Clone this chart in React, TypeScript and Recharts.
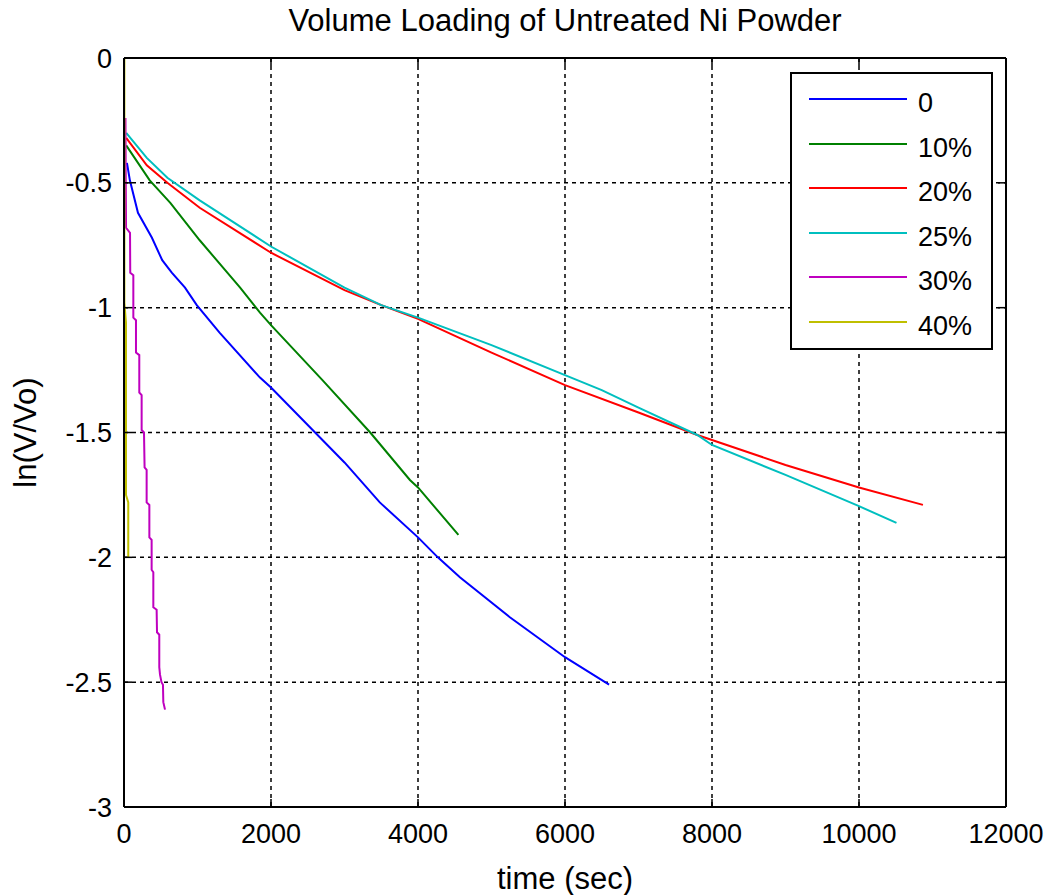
import { LineChart, Line, XAxis, YAxis, CartesianGrid } from "recharts";

const FONT = '"Liberation Sans", Arial, sans-serif';

const X_TICKS = [0, 2000, 4000, 6000, 8000, 10000, 12000];
const Y_TICKS = [-3, -2.5, -2, -1.5, -1, -0.5, 0];

// time (sec) / ln(V/Vo) per loading
const T_0 = [40, 80, 190, 380, 520, 650, 830, 990, 1300, 1850, 2000, 2600, 3000, 3480, 4000, 4270, 4570, 5250, 6000, 6600];
const LN_0 = [-0.42, -0.49, -0.62, -0.72, -0.81, -0.86, -0.92, -0.99, -1.1, -1.28, -1.32, -1.5, -1.62, -1.78, -1.92, -2.0, -2.08, -2.24, -2.4, -2.51];

const T_10 = [30, 350, 630, 1030, 1580, 1850, 2000, 2700, 3350, 3890, 4000, 4550];
const LN_10 = [-0.35, -0.49, -0.58, -0.73, -0.92, -1.02, -1.07, -1.29, -1.5, -1.69, -1.72, -1.91];

const T_20 = [30, 310, 590, 1030, 2000, 3000, 3500, 4000, 5000, 6000, 7000, 7800, 8000, 9000, 10000, 10870];
const LN_20 = [-0.32, -0.43, -0.5, -0.6, -0.78, -0.93, -0.99, -1.045, -1.18, -1.31, -1.42, -1.51, -1.53, -1.63, -1.72, -1.79];

const T_25 = [30, 310, 590, 1030, 2000, 3000, 3500, 4000, 5000, 6000, 6500, 7000, 7800, 8000, 9000, 10000, 10510];
const LN_25 = [-0.3, -0.4, -0.48, -0.57, -0.755, -0.92, -0.99, -1.04, -1.15, -1.27, -1.33, -1.4, -1.51, -1.55, -1.67, -1.795, -1.862];

const T_30 = [20, 23, 28, 82, 85, 127, 127, 163, 163, 208, 208, 240, 240, 272, 280, 308, 308, 345, 345, 376, 376, 399, 399, 444, 449, 480, 480, 490, 510, 530, 535, 558];
const LN_30 = [-0.24, -0.45, -0.68, -0.7, -0.86, -0.87, -1.04, -1.05, -1.18, -1.19, -1.34, -1.35, -1.49, -1.5, -1.64, -1.65, -1.78, -1.79, -1.92, -1.93, -2.05, -2.06, -2.2, -2.21, -2.3, -2.31, -2.44, -2.47, -2.5, -2.51, -2.58, -2.61];

const T_40 = [5, 5, 27, 27, 58, 58];
const LN_40 = [0, -0.98, -1.06, -1.75, -1.78, -2.0];

// the last series is plotted against the top/right axes (same domains) so the box edges get drawn
const SERIES = [
  { name: "0", color: "#0000ff", t: T_0, ln: LN_0, xId: 0, yId: 0 },
  { name: "10%", color: "#008000", t: T_10, ln: LN_10, xId: 0, yId: 0 },
  { name: "20%", color: "#ff0000", t: T_20, ln: LN_20, xId: 0, yId: 0 },
  { name: "25%", color: "#00bfbf", t: T_25, ln: LN_25, xId: 0, yId: 0 },
  { name: "30%", color: "#bf00bf", t: T_30, ln: LN_30, xId: 0, yId: 0 },
  { name: "40%", color: "#bfbf00", t: T_40, ln: LN_40, xId: "top", yId: "right" },
];

const tickStyle = { fill: "#000", fontSize: 27, fontFamily: FONT };
const axisLine = { stroke: "#000", strokeWidth: 2 };
const tickLine = { stroke: "#000", strokeWidth: 1.5 };

export default function App() {
  const lines = SERIES.map((s) => ({
    ...s,
    data: s.t.map((t, i) => ({ t, v: s.ln[i] })),
  }));

  return (
    <div style={{ position: "absolute", left: 0, top: 0, width: 1054, height: 895, background: "#fff", fontFamily: FONT }}>
      <LineChart width={1054} height={895} margin={{ top: 57, right: 47, left: 0, bottom: 0 }}>
        <CartesianGrid stroke="#000" strokeWidth={1.5} strokeDasharray="4 4" />
        <XAxis
          dataKey="t"
          type="number"
          domain={[0, 12000]}
          ticks={X_TICKS}
          interval={0}
          height={88}
          tickSize={-8}
          tickMargin={25}
          tick={tickStyle}
          axisLine={axisLine}
          tickLine={tickLine}
        />
        <XAxis
          xAxisId="top"
          dataKey="t"
          orientation="top"
          type="number"
          domain={[0, 12000]}
          ticks={X_TICKS}
          interval={0}
          height={1}
          tickSize={-8}
          tickMargin={0}
          tick={() => null}
          axisLine={axisLine}
          tickLine={tickLine}
        />
        <YAxis
          type="number"
          domain={[-3, 0]}
          ticks={Y_TICKS}
          interval={0}
          width={124}
          tickSize={-8}
          tickMargin={20}
          tick={tickStyle}
          axisLine={axisLine}
          tickLine={tickLine}
        />
        <YAxis
          yAxisId="right"
          orientation="right"
          type="number"
          domain={[-3, 0]}
          ticks={Y_TICKS}
          interval={0}
          width={1}
          tickSize={-8}
          tickMargin={0}
          tick={() => null}
          axisLine={axisLine}
          tickLine={tickLine}
        />
        {lines.map((s) => (
          <Line
            key={s.name}
            data={s.data}
            dataKey="v"
            name={s.name}
            xAxisId={s.xId}
            yAxisId={s.yId}
            type="linear"
            stroke={s.color}
            strokeWidth={2}
            dot={false}
            isAnimationActive={false}
          />
        ))}
      </LineChart>

      <div style={{ position: "absolute", left: 124, top: 5, width: 882, textAlign: "center", fontSize: 31, lineHeight: "31px", color: "#000" }}>
        Volume Loading of Untreated Ni Powder
      </div>
      <div style={{ position: "absolute", left: 124, top: 863, width: 882, textAlign: "center", fontSize: 31, lineHeight: "31px", color: "#000" }}>
        time (sec)
      </div>
      <div
        style={{
          position: "absolute",
          left: 25 - 100,
          top: 432 - 15.5,
          width: 200,
          height: 31,
          textAlign: "center",
          fontSize: 31,
          lineHeight: "31px",
          color: "#000",
          transform: "rotate(-90deg)",
        }}
      >
        ln(V/Vo)
      </div>

      {/* legend box */}
      <div
        style={{
          position: "absolute",
          left: 790,
          top: 72,
          width: 203,
          height: 278,
          boxSizing: "border-box",
          border: "2px solid #000",
          background: "#fff",
        }}
      >
        {SERIES.map((s, i) => (
          <div key={s.name} style={{ position: "absolute", left: 0, top: 27 - 2 + i * 44.6 - 20, height: 40, width: 199 }}>
            <div style={{ position: "absolute", left: 17, top: 19, width: 98, height: 2, background: s.color }} />
            <div style={{ position: "absolute", left: 126, top: 4, fontSize: 27, lineHeight: "40px", color: "#000" }}>{s.name}</div>
          </div>
        ))}
      </div>
    </div>
  );
}
